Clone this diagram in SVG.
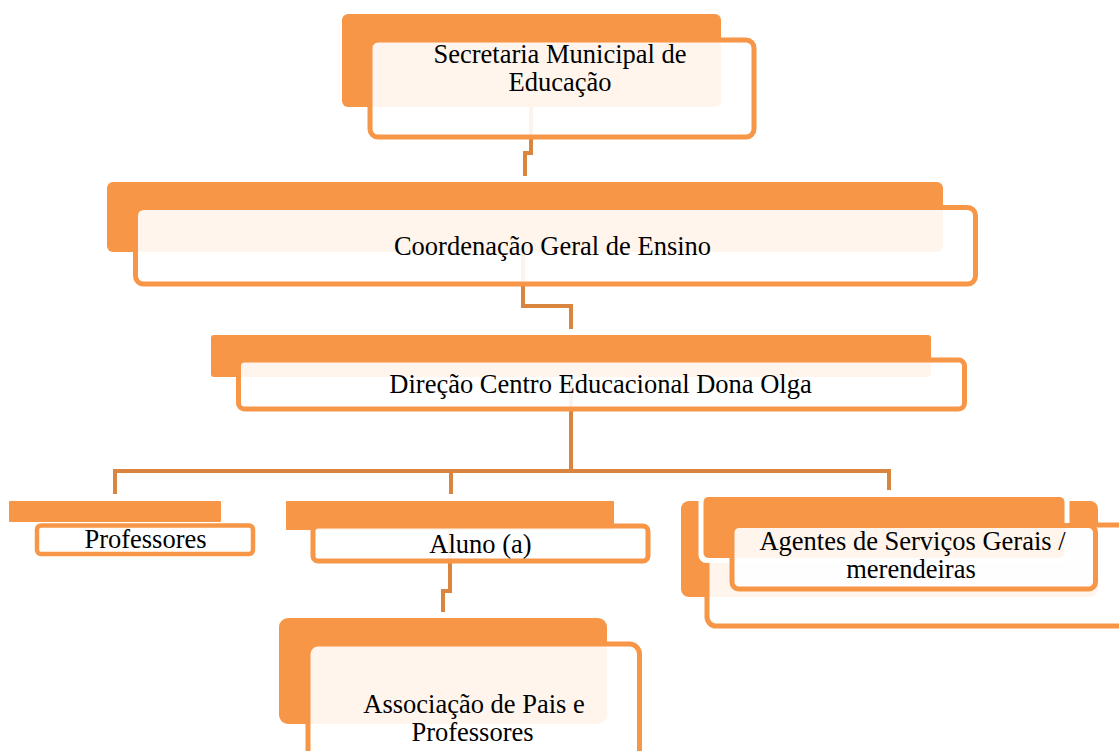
<svg xmlns="http://www.w3.org/2000/svg" width="1119" height="751" viewBox="0 0 1119 751">
<style>
.back{fill:#F79646}
.front{fill:#FFFFFF;fill-opacity:0.9;stroke:#F79646;stroke-width:5}
.halo{fill:#FFFFFF}
.conn{fill:none;stroke:#D98540;stroke-width:4}
text{font-family:"Liberation Serif","Times New Roman",serif;font-size:26.5px;fill:#000000;text-anchor:middle}
</style>
<rect width="1119" height="751" fill="#FFFFFF"/>
<g id="connectors">
<path class="conn" d="M531 107 V153 H525 V176"/>
<path class="conn" d="M523 252 V306 H571 V329"/>
<path class="conn" d="M571 377 V471"/>
<path class="conn" d="M115 494 V471 H889 V490"/>
<path class="conn" d="M451 471 V494"/>
<path class="conn" d="M450 530 V591 H443 V612"/>
</g>
<g id="node-secretaria">
<rect class="back" x="342" y="14" width="379" height="93" rx="6"/>
<rect class="front" x="370" y="40" width="384" height="97" rx="8"/>
<text x="560" y="62.5">Secretaria Municipal de<tspan x="560" y="90.5">Educação</tspan></text>
</g>
<g id="node-coordenacao">
<rect class="back" x="107" y="182" width="836" height="70" rx="6"/>
<rect class="front" x="135.5" y="207.5" width="840" height="76.5" rx="8"/>
<text x="552.5" y="255">Coordenação Geral de Ensino</text>
</g>
<g id="node-direcao">
<rect class="back" x="211" y="335" width="720" height="42" rx="3"/>
<rect class="front" x="238.5" y="360" width="726" height="49" rx="6"/>
<text x="600.5" y="392.5">Direção Centro Educacional Dona Olga</text>
</g>
<g id="node-professores">
<rect class="back" x="9" y="501" width="212" height="21" rx="1"/>
<rect class="front" x="37" y="525.5" width="216" height="28.5" rx="4" style="stroke-width:4.5"/>
<text x="145.5" y="547.5">Professores</text>
</g>
<g id="node-aluno">
<rect class="back" x="286" y="501" width="328" height="29" rx="1"/>
<rect class="front" x="313" y="526" width="335" height="35" rx="5"/>
<text x="480.5" y="553">Aluno (a)</text>
</g>
<g id="node-agentes">
<rect class="back" x="681" y="501" width="417" height="96" rx="8"/>
<rect class="front" x="707" y="525" width="430" height="101" rx="9"/>
<rect class="halo" x="698.5" y="492" width="371" height="71" rx="8"/>
<rect class="back" x="703.5" y="497" width="361" height="61" rx="5"/>
<rect class="front" x="732" y="525.5" width="363.5" height="63.5" rx="7"/>
<text x="912.5" y="550">Agentes de Serviços Gerais /<tspan x="911" y="578">merendeiras</tspan></text>
</g>
<g id="node-associacao">
<rect class="back" x="279" y="618" width="328" height="106" rx="9"/>
<rect class="front" x="308" y="644" width="331.5" height="130" rx="10"/>
<text x="474" y="712.5">Associação de Pais e<tspan x="472.5" y="740.5">Professores</tspan></text>
</g>
</svg>
